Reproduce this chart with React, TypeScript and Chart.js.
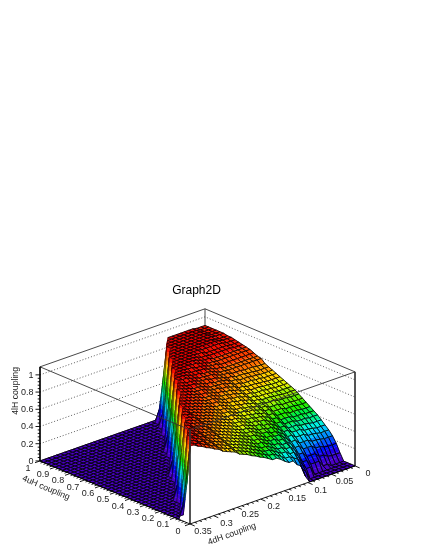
import React, { useEffect, useRef } from "react";
import { Chart, registerables } from "chart.js";

Chart.register(...registerables);

const titleText = "Graph2D";
const xTitle = "4dH coupling";
const yTitle = "4uH coupling";
const zTitle = "4lH coupling";
const xMajor = [0, 0.05, 0.1, 0.15, 0.2, 0.25, 0.3, 0.35];
const yMajor = [0, 0.1, 0.2, 0.3, 0.4, 0.5, 0.6, 0.7, 0.8, 0.9, 1];
const zMajor = [0, 0.2, 0.4, 0.6, 0.8, 1];
const xMax = 0.35;
const yMax = 1;
const zMax = 1.093;
const gridN = 40;

// surface heights in hundredths: rows run along 4dH (0 to 0.35), entries along 4uH (0 to 1); missing = 0
const zRows: number[][] = [
  [0,0,0,0,8,17,24,29,33,37,41,44,47,50,53,56,59,61,63,65,67,69,71,73,75,79,80,82,84,85,86,87,88,89,89,90,90,90,90,90,90],
  [0,0,0,0,8,17,24,29,33,37,41,44,47,50,53,56,59,61,63,65,67,69,71,73,75,79,80,82,84,85,86,87,88,89,89,90,90,90,90,90,90],
  [0,0,0,0,8,17,24,29,33,37,41,44,47,50,53,56,59,61,63,65,67,69,71,73,75,79,80,82,84,85,86,87,88,89,89,90,90,90,90,90,90],
  [0,0,0,0,9,18,25,30,34,38,42,45,48,51,54,57,59,61,63,65,67,69,71,73,76,79,80,82,84,85,87,88,89,90,90,91,91,91,91,91,91],
  [0,0,0,3,12,20,26,31,35,39,42,45,48,51,54,57,60,62,64,66,68,70,72,74,76,79,80,82,84,85,87,88,90,91,91,91,91,91,91,91,91],
  [0,0,0,3,12,20,26,31,35,39,42,45,48,51,54,57,60,62,64,66,68,70,72,74,76,79,80,82,84,85,87,88,90,91,91,91,91,91,91,91,91],
  [0,0,0,10,17,24,29,34,38,41,44,47,50,53,56,59,61,63,65,67,69,71,73,75,77,79,80,82,84,85,87,88,90,91,91,91,91,91,91,91,91],
  [0,0,0,10,17,24,29,34,38,41,44,47,50,53,56,59,61,63,65,67,69,71,73,75,77,79,80,82,84,85,87,88,90,91,91,91,91,91,91,91,91],
  [0,0,0,10,17,24,29,34,38,41,44,47,50,53,56,59,61,63,65,67,69,71,73,75,77,79,80,82,84,85,87,88,90,91,91,91,91,91,91,91,91],
  [0,0,10,16,23,29,34,38,42,45,48,51,54,57,59,61,63,65,67,69,71,73,75,77,79,80,82,84,85,87,88,90,91,91,91,91,91,91,91,91,91],
  [0,0,10,16,23,29,34,38,42,45,48,51,54,57,59,61,63,65,67,69,71,73,75,77,79,80,82,84,85,87,88,90,91,91,91,91,91,91,91,91,40],
  [0,10,17,24,30,35,39,43,46,49,52,55,58,60,62,64,66,68,70,72,74,76,78,79,80,82,84,85,87,88,90,91,91,91,91,91,91,91,91,40],
  [8,16,24,30,35,39,43,46,49,52,54,57,59,61,63,65,67,69,71,73,75,77,79,80,82,84,85,87,88,90,91,91,91,91,91,91,91,91,50,14],
  [22,28,34,38,41,44,47,49,52,54,57,59,61,63,65,67,69,71,73,75,77,79,80,82,84,85,87,88,90,91,91,91,91,91,91,91,50,14],
  [25,31,34,38,41,44,47,49,52,54,57,59,61,63,65,67,69,71,73,75,77,79,80,82,84,85,87,88,90,91,91,91,91,91,91,40],
  [31,34,38,41,44,47,49,52,54,57,59,61,63,65,67,69,71,73,75,77,79,80,82,84,85,87,88,90,91,91,91,91,91,91,40],
  [31,34,38,41,44,47,49,52,54,57,59,61,63,65,67,69,71,73,75,77,79,80,82,84,85,87,88,90,91,91,91,91,40],
  [34,38,41,44,47,49,52,54,57,59,61,63,65,67,69,71,73,75,77,79,80,82,84,85,87,88,90,91,91,91,91,40],
  [38,41,44,47,49,52,54,57,59,61,63,65,67,69,71,73,75,77,79,80,82,84,85,87,88,90,91,91,91,91,40],
  [41,44,47,49,52,54,57,59,61,63,65,67,69,71,73,75,77,79,80,82,84,85,87,88,90,91,91,91,50,14],
  [41,44,47,49,52,54,57,59,61,63,65,67,69,71,73,75,77,79,80,82,84,85,87,88,90,91,91,50,14],
  [44,47,49,52,54,57,59,61,63,65,67,69,71,73,75,77,79,80,82,84,85,87,88,90,91,91,40],
  [47,49,52,54,57,59,61,63,65,67,69,71,73,75,77,79,80,82,84,85,87,88,90,91,40],
  [49,52,54,57,59,61,63,65,67,69,71,73,75,77,79,80,82,84,85,87,88,90,91,40],
  [52,54,57,59,61,63,65,67,69,71,73,75,77,79,80,82,84,85,87,88,90,91,40],
  [54,57,59,61,63,65,67,69,71,73,75,77,79,80,82,84,85,87,88,90,40],
  [57,59,61,63,65,67,69,71,73,75,77,79,80,82,84,85,87,88,90,50,14],
  [59,61,63,65,67,69,71,73,75,77,79,80,82,84,85,87,88,90,50,14],
  [61,63,65,67,69,71,73,75,77,79,80,82,84,85,87,88,90,40],
  [65,67,69,71,73,75,77,79,80,82,84,85,87,88,90,40],
  [67,69,71,73,75,77,79,80,82,84,85,87,88,90,40],
  [69,71,73,75,77,79,80,82,84,85,87,88,90,40],
  [71,73,75,77,79,80,82,84,85,87,88,40],
  [75,77,79,80,82,84,85,87,88,90,50,14],
  [77,79,80,82,84,85,87,88,90,50,14],
  [80,82,84,85,87,88,90,40],
  [82,84,85,87,88,90,40],
  [85,87,88,90,91,40],
  [87,88,90,40],
  [90,91,50,14],
  [91,50,14],
];

const palette = ["#4b00c8","#3c00d6","#1e00e6","#0010ff","#0050ff","#0090ff","#00c8ff","#00f0e0","#00f090","#00f040","#20f000","#60f000","#a0f000","#e0f000","#ffd000","#ffa000","#ff7000","#ff4000","#f81000","#e80000"];
const levelTop = 0.95;

const TITLE_H = 298;
const RIGHT_PAD = 32;
const project = (x: number, y: number, z: number) => {
  const t = 1 - x / xMax;
  return { x: 190 + 165 * t - 150 * y, y: -(524 - 58 * t - 63 * y - 86 * z) };
};
const zAt = (a: number, j: number) => ((zRows[a] && zRows[a][j]) || 0) / 100;
const xAt = (a: number) => (a / gridN) * xMax;
const yAt = (j: number) => (j / gridN) * yMax;

const vertices: { x: number; y: number }[] = [];
for (let a = 0; a <= gridN; a++) for (let j = 0; j <= gridN; j++) vertices.push(project(xAt(a), yAt(j), zAt(a, j)));

type V = { x: number; y: number; z: number };
function clip(poly: V[], level: number, keepAbove: boolean): V[] {
  const out: V[] = [];
  for (let i = 0; i < poly.length; i++) {
    const p = poly[i];
    const q = poly[(i + 1) % poly.length];
    const pIn = keepAbove ? p.z >= level : p.z <= level;
    const qIn = keepAbove ? q.z >= level : q.z <= level;
    if (pIn) out.push(p);
    if (pIn !== qIn) {
      const f = (level - p.z) / (q.z - p.z);
      out.push({ x: p.x + (q.x - p.x) * f, y: p.y + (q.y - p.y) * f, z: level });
    }
  }
  return out;
}

const surfacePlugin = {
  id: "surface",
  beforeDatasetDraw(chart: any, args: any) {
    if (args.index !== 1) return;
    const ctx = chart.ctx;
    const sx = chart.scales.x;
    const sy = chart.scales.y;
    const n = gridN + 1;
    const vert = (a: number, j: number): V => {
      const v = vertices[a * n + j];
      return { x: sx.getPixelForValue(v.x), y: sy.getPixelForValue(v.y), z: zAt(a, j) };
    };
    ctx.save();
    ctx.lineJoin = "round";
    for (let a = 0; a < gridN; a++) {
      for (let j = gridN - 1; j >= 0; j--) {
        const quad = [vert(a, j), vert(a + 1, j), vert(a + 1, j + 1), vert(a, j + 1)];
        const dz = levelTop / palette.length;
        for (let k = 0; k < palette.length; k++) {
          let poly = quad;
          if (k > 0) poly = clip(poly, k * dz, true);
          if (k < palette.length - 1 && poly.length) poly = clip(poly, (k + 1) * dz, false);
          if (poly.length < 3) continue;
          ctx.beginPath();
          poly.forEach((p, i) => (i ? ctx.lineTo(p.x, p.y) : ctx.moveTo(p.x, p.y)));
          ctx.closePath();
          ctx.fillStyle = palette[k];
          ctx.strokeStyle = palette[k];
          ctx.lineWidth = 0.3;
          ctx.fill();
          ctx.stroke();
        }
        const zs = quad.map((p) => p.z);
        const steep = Math.max(...zs) - Math.min(...zs) > 0.25;
        ctx.beginPath();
        quad.forEach((p, i) => (i ? ctx.lineTo(p.x, p.y) : ctx.moveTo(p.x, p.y)));
        ctx.closePath();
        ctx.strokeStyle = "#000";
        ctx.lineWidth = steep ? 0.45 : 0.85;
        ctx.stroke();
      }
    }
    ctx.restore();
  },
};

const labelPlugin = {
  id: "axisText",
  afterDatasetsDraw(chart: any) {
    const ctx = chart.ctx;
    const sx = chart.scales.x;
    const sy = chart.scales.y;
    const at = (p: { x: number; y: number }) => ({ x: sx.getPixelForValue(p.x), y: sy.getPixelForValue(p.y) });
    ctx.save();
    ctx.fillStyle = "#222";
    ctx.font = '9px "Liberation Sans"';
    ctx.textAlign = "center";
    ctx.textBaseline = "middle";
    xMajor.forEach((v) => {
      const p = at(project(v, 0, 0));
      ctx.fillText(String(v), p.x + 13, p.y + 7.5);
    });
    yMajor.forEach((v) => {
      const p = at(project(xMax, v, 0));
      ctx.fillText(String(v), p.x - 12, p.y + 7.3);
    });
    ctx.textAlign = "right";
    zMajor.forEach((v) => {
      const p = at(project(xMax, yMax, v));
      ctx.fillText(String(v), p.x - 6.5, p.y + 0.5);
    });
    ctx.textAlign = "center";
    ctx.font = '8.7px "Liberation Sans"';
    const a1 = at({ x: 232, y: -534 });
    ctx.save();
    ctx.translate(a1.x, a1.y);
    ctx.rotate((-20 * Math.PI) / 180);
    ctx.fillText(xTitle, 0, 0);
    ctx.restore();
    const a2 = at({ x: 46, y: -488 });
    ctx.save();
    ctx.translate(a2.x, a2.y);
    ctx.rotate((22.8 * Math.PI) / 180);
    ctx.fillText(yTitle, 0, 0);
    ctx.restore();
    const a3 = at({ x: 16, y: -391 });
    ctx.save();
    ctx.translate(a3.x, a3.y);
    ctx.rotate(-Math.PI / 2);
    ctx.fillText(zTitle, 0, 0);
    ctx.restore();
    ctx.restore();
  },
};

const brk = { x: NaN, y: NaN };
const poly3 = (pts: number[][]) => pts.map((p) => project(p[0], p[1], p[2]));
const joined = (segs: { x: number; y: number }[][]) => segs.flatMap((s) => [...s, brk]);

const backDotted: { x: number; y: number }[][] = zMajor
  .filter((z) => z > 0)
  .map((z) => poly3([[xMax, yMax, z], [0, yMax, z], [0, 0, z]]));
const backSolid = [
  poly3([[xMax, yMax, zMax], [0, yMax, zMax], [0, 0, zMax], [0, 0, 0]]),
  poly3([[0, yMax, 0], [0, yMax, zMax]]),
  poly3([[xMax, yMax, 0], [0, yMax, 0], [0, 0, 0]]),
];
const frontSolid = [
  poly3([[xMax, yMax, zMax], [xMax, 0, zMax], [0, 0, zMax]]),
  poly3([[xMax, 0, zMax], [xMax, 0, 0]]),
];
const axesSolid = [poly3([[xMax, yMax, zMax], [xMax, yMax, 0], [xMax, 0, 0], [0, 0, 0]])];

const tickSeg = (from: { x: number; y: number }, dx: number, dy: number) => [from, { x: from.x + dx, y: from.y - dy }];
const ticks: { x: number; y: number }[][] = [];
for (let k = 0; k <= 35; k++) {
  const major = k % 5 === 0;
  ticks.push(tickSeg(project((k / 35) * xMax, 0, 0), major ? 4.7 : 2.4, major ? 2 : 1));
}
for (let k = 0; k <= 50; k++) {
  const major = k % 5 === 0;
  ticks.push(tickSeg(project(xMax, (k / 50) * yMax, 0), major ? -5 : -2.5, major ? 1.8 : 0.9));
}
for (let k = 0; k <= 25; k++) {
  const major = k % 5 === 0;
  ticks.push(tickSeg(project(xMax, yMax, (k / 25) * 1), major ? -4.5 : -2.3, 0));
}

export default function App() {
  const ref = useRef<HTMLCanvasElement>(null);
  useEffect(() => {
    const chart = new Chart(ref.current as HTMLCanvasElement, {
      type: "scatter",
      data: {
        datasets: [
          { data: [...joined(backDotted)], showLine: true, borderColor: "#333", borderWidth: 0.8, borderDash: [1, 2], pointRadius: 0, order: 4, spanGaps: false },
          { data: vertices, showLine: false, pointRadius: 0, order: 3 },
          { data: [...joined(backSolid)], showLine: true, borderColor: "#333", borderWidth: 0.9, pointRadius: 0, order: 5, spanGaps: false },
          { data: joined(frontSolid), showLine: true, borderColor: "#333", borderWidth: 0.9, pointRadius: 0, order: 2, spanGaps: false },
          { data: [...joined(axesSolid), ...joined(ticks)], showLine: true, borderColor: "#000", borderWidth: 0.9, pointRadius: 0, order: 1, spanGaps: false },
        ] as any,
      },
      options: {
        animation: false,
        responsive: false,
        layout: { padding: { right: RIGHT_PAD } },
        scales: {
          x: { type: "linear", display: false, min: 0, max: 425 - RIGHT_PAD },
          y: { type: "linear", display: false, min: -550, max: -TITLE_H },
        },
        plugins: {
          legend: { display: false },
          tooltip: { enabled: false },
          title: {
            display: true,
            text: titleText,
            color: "#000",
            font: { family: '"Liberation Sans"', size: 12, weight: "normal" },
            padding: { top: 283.4, bottom: 0 },
          },
        },
      },
      plugins: [surfacePlugin, labelPlugin],
    } as any);
    return () => chart.destroy();
  }, []);
  return (
    <div style={{ position: "fixed", left: 0, top: 0, width: 425, height: 550, background: "#fff" }}>
      <canvas ref={ref} width={425} height={550} style={{ display: "block" }} />
    </div>
  );
}
